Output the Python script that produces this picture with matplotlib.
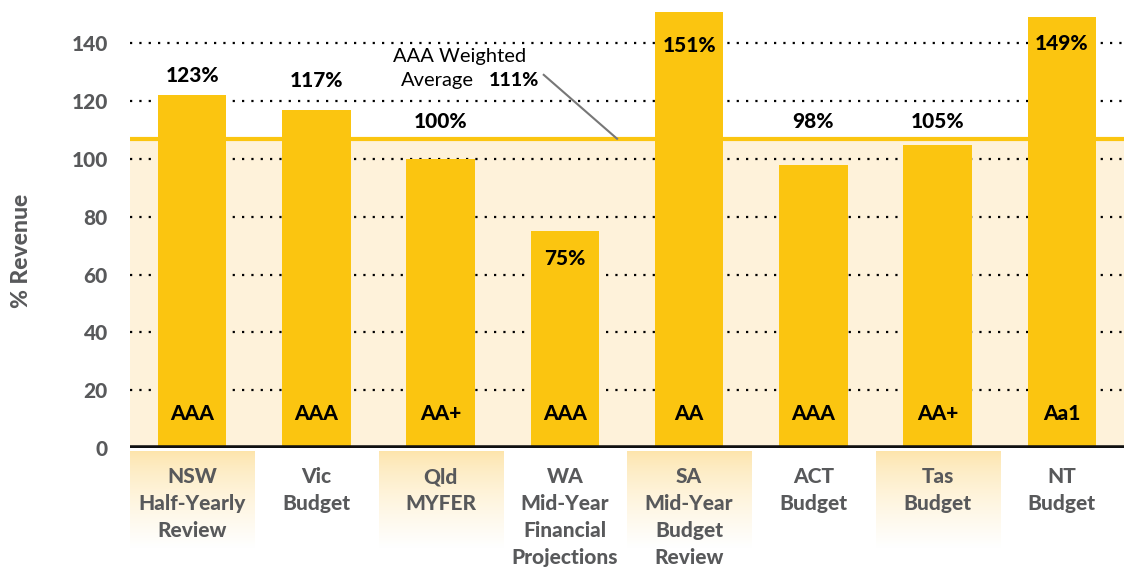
import matplotlib
matplotlib.use("Agg")
import matplotlib.pyplot as plt
import numpy as np

# ---- data ----
categories = ["NSW\nHalf-Yearly\nReview", "Vic\nBudget", "Qld\nMYFER",
              "WA\nMid-Year\nFinancial\nProjections", "SA\nMid-Year\nBudget\nReview",
              "ACT\nBudget", "Tas\nBudget", "NT\nBudget"]
values = [122, 117, 100, 75, 151, 98, 105, 149]
value_labels = ["123%", "117%", "100%", "75%", "151%", "98%", "105%", "149%"]
ratings = ["AAA", "AAA", "AA+", "AAA", "AA", "AAA", "AA+", "Aa1"]
weighted_avg_line = 107
weighted_avg_label = "111%"
yticks = [0, 20, 40, 60, 80, 100, 120, 140]

# label heights (data units)
label_y = [129, 127.3, 112.8, 65.4, 139.4, 112.8, 112.8, 139.8]

BAR = "#FBC510"
SHADE = "#FEF2DA"
GREY = "#58595B"
FONT = "Lato"
BW = "black"

W, H = 1125, 569
fig = plt.figure(figsize=(W / 100, H / 100), dpi=100)
fig.patch.set_facecolor("white")

left, right, y0, top = 130, 1124, 448, 0
ax = fig.add_axes([left / W, (H - y0) / H, (right - left) / W, (y0 - top) / H])
ax.set_xlim(-0.5, 7.5)
ax.set_ylim(0, 155)
ax.set_facecolor("white")
for s in ax.spines.values():
    s.set_visible(False)

x = np.arange(len(categories))
ax.axhspan(0, weighted_avg_line, color=SHADE, zorder=0, lw=0)
for t in yticks[1:]:
    ax.axhline(t, color="black", lw=1.6, linestyle=(0, (1, 3.2)), zorder=1)
ax.axhline(weighted_avg_line, color=BAR, lw=3, zorder=1.5)
ax.bar(x, values, width=0.55, color=BAR, zorder=2, lw=0)
ax.axhline(0, color="#111111", lw=4, zorder=3)

for xi, lab, ly in zip(x, value_labels, label_y):
    ax.text(xi, ly, lab, ha="center", va="center", fontsize=15, fontweight=BW,
            family=FONT, color="black", zorder=4)
for xi, r in zip(x, ratings):
    ax.text(xi, 12, r, ha="center", va="center", fontsize=15, fontweight=BW,
            family=FONT, color="black", zorder=4)

# annotation
ax.text(2.156, 135.3, "AAA Weighted", ha="center", va="center", fontsize=14.5,
        family=FONT, color="black")
ax.text(2.27, 127.3, "Average", ha="right", va="center", fontsize=14.5,
        family=FONT, color="black")
ax.text(2.39, 127.3, weighted_avg_label, ha="left", va="center", fontsize=14,
        fontweight=BW, family=FONT, color="black")
ax.plot([2.83, 3.42], [129.1, weighted_avg_line], color="#777777", lw=1.5, zorder=3)

ax.set_yticks(yticks)
ax.set_yticklabels([str(t) for t in yticks], fontsize=15, fontweight=BW,
                   family=FONT, color=GREY)
ax.tick_params(axis="y", length=0, pad=16)
ax.tick_params(axis="x", length=0)
ax.set_xticks([])

fig.text(22 / W, (H - 251) / H, "% Revenue", rotation=90, ha="center", va="center",
         fontsize=16.5, fontweight=BW, family=FONT, color=GREY)

# category label panel
lab_top, lab_bot = 451, 550
lax = fig.add_axes([left / W, (H - lab_bot) / H, (right - left) / W, (lab_bot - lab_top) / H])
lax.axis("off")
grad = np.linspace(0, 1, 100) ** 0.7
c_top = np.array([0xFD, 0xE4, 0xAA]) / 255
c_bot = np.array([1.0, 1.0, 1.0])
img = (c_top[None, :] * (1 - grad[:, None]) + c_bot[None, :] * grad[:, None]).reshape(100, 1, 3)
for i in range(0, len(categories), 2):
    lax.imshow(img, extent=[i - 0.5, i + 0.5, lab_bot - 2, lab_top], aspect="auto",
               interpolation="bilinear", zorder=0)
lax.set_ylim(lab_bot, lab_top)
lax.set_xlim(-0.5, 7.5)
for xi, c in zip(x, categories):
    for j, line in enumerate(c.split("\n")):
        lax.text(xi, 477 + j * 26.7, line, ha="center", va="center", fontsize=15,
                 fontweight=BW, family=FONT, color=GREY, zorder=2, clip_on=False)

fig.savefig("out.png", dpi=100)
